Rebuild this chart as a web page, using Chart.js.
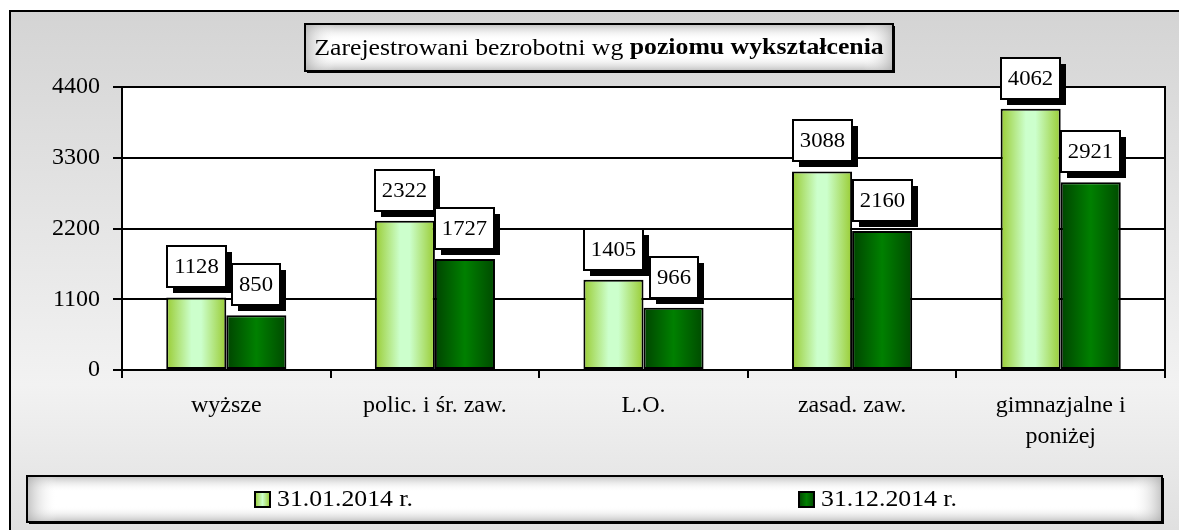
<!DOCTYPE html>
<html><head><meta charset="utf-8">
<script src="https://cdn.jsdelivr.net/npm/chart.js@4/dist/chart.umd.min.js"></script>
<style>html,body{margin:0;padding:0;background:#fff;overflow:hidden}</style>
</head><body>
<canvas id="c" width="1179" height="530"></canvas>
<script>
// ---- data ----
const categories = ['wyższe', 'polic. i śr. zaw.', 'L.O.', 'zasad. zaw.', ['gimnazjalne i', 'poniżej']];
const seriesNames = ['31.01.2014 r.', '31.12.2014 r.'];
const valuesJan = [1128, 2322, 1405, 3088, 4062];
const valuesDec = [850, 1727, 966, 2160, 2921];
const yTicks = [0, 1100, 2200, 3300, 4400];
const titleNormal = 'Zarejestrowani bezrobotni wg ';
const titleBold = 'poziomu wykształcenia';

// ---- styling ----
const FONT = "'Liberation Serif', 'Times New Roman', serif";
const CAT_PCT = 0.576;
const SX = 1.08;

function barGradient(context, which) {
  const chart = context.chart;
  const xs = chart.scales.x;
  const light = which === 0;
  if (!xs || !chart.chartArea) return light ? '#b8e68a' : '#006600';
  const center = xs.getPixelForValue(context.dataIndex);
  const band = xs.width / categories.length * CAT_PCT;
  const left = light ? center - band / 2 : center;
  const g = chart.ctx.createLinearGradient(left, 0, left + band / 2, 0);
  if (light) {
    g.addColorStop(0, '#99cc33');
    g.addColorStop(0.42, '#ccffcc');
    g.addColorStop(0.58, '#ccffcc');
    g.addColorStop(1, '#99cc33');
  } else {
    g.addColorStop(0, '#004400');
    g.addColorStop(0.5, '#008000');
    g.addColorStop(1, '#004a00');
  }
  return g;
}

function sText(ctx, text, x, y, sx) {
  ctx.save();
  ctx.translate(x, y);
  ctx.scale(sx, 1);
  ctx.fillText(text, 0, 0);
  ctx.restore();
}

function boxGradientFill(ctx, x, y, w, h) {
  ctx.fillStyle = '#ffffff';
  ctx.fillRect(x, y, w, h);
  const gv = ctx.createLinearGradient(0, y, 0, y + h);
  gv.addColorStop(0, 'rgba(170,170,170,0.75)');
  gv.addColorStop(0.35, 'rgba(255,255,255,0)');
  gv.addColorStop(0.65, 'rgba(255,255,255,0)');
  gv.addColorStop(1, 'rgba(170,170,170,0.75)');
  ctx.fillStyle = gv;
  ctx.fillRect(x, y, w, h);
  const gh = ctx.createLinearGradient(x, 0, x + w, 0);
  const e = Math.min(0.08, 30 / w);
  gh.addColorStop(0, 'rgba(170,170,170,0.7)');
  gh.addColorStop(e, 'rgba(255,255,255,0)');
  gh.addColorStop(1 - e, 'rgba(255,255,255,0)');
  gh.addColorStop(1, 'rgba(170,170,170,0.7)');
  ctx.fillStyle = gh;
  ctx.fillRect(x, y, w, h);
}

const decorPlugin = {
  id: 'decor',
  beforeDraw(chart) {
    const ctx = chart.ctx;
    const W = chart.width, H = chart.height;
    ctx.save();
    ctx.fillStyle = '#ffffff';
    ctx.fillRect(0, 0, W, H);
    const g = ctx.createLinearGradient(0, 11, 0, H);
    g.addColorStop(0, '#d4d4d4');
    g.addColorStop(0.72, '#f2f2f2');
    g.addColorStop(1, '#e0e0e0');
    ctx.fillStyle = g;
    ctx.fillRect(10, 11, W, H);
    ctx.strokeStyle = '#000';
    ctx.lineWidth = 2;
    ctx.strokeRect(10, 11, W + 20, H + 20);
    const a = chart.chartArea;
    ctx.fillStyle = '#ffffff';
    ctx.fillRect(a.left, a.top, a.right - a.left, a.bottom - a.top);
    ctx.restore();
  },
  beforeDatasetsDraw(chart) {
    const ctx = chart.ctx, a = chart.chartArea;
    ctx.save();
    ctx.strokeStyle = '#000';
    ctx.lineWidth = 2;
    ctx.beginPath();
    ctx.moveTo(a.right, a.top - 1);
    ctx.lineTo(a.right, a.bottom);
    ctx.stroke();
    ctx.restore();
  },
  afterDatasetsDraw(chart) {
    const ctx = chart.ctx;
    ctx.save();
    ctx.font = '21px ' + FONT;
    ctx.textBaseline = 'middle';
    ctx.textAlign = 'left';
    chart.data.datasets.forEach((ds, di) => {
      const meta = chart.getDatasetMeta(di);
      meta.data.forEach((el, i) => {
        const txt = String(ds.data[i]);
        const tw = ctx.measureText(txt).width * SX;
        const w = Math.round(tw + 14), h = 41;
        const x = Math.round(el.x - w / 2), y = Math.round(el.y - 10 - h);
        ctx.fillStyle = '#000';
        ctx.fillRect(x + 6, y + 6, w, h);
        ctx.fillStyle = '#fff';
        ctx.fillRect(x, y, w, h);
        ctx.strokeStyle = '#000';
        ctx.lineWidth = 2;
        ctx.strokeRect(x, y, w, h);
        ctx.fillStyle = '#000';
        sText(ctx, txt, x + (w - tw) / 2, y + h / 2 + 1, SX);
      });
    });
    ctx.restore();
  },
  afterDraw(chart) {
    const ctx = chart.ctx;
    ctx.save();
    // title box
    const tx = 305, ty = 24, tw = 588, th = 47;
    ctx.fillStyle = '#000';
    ctx.fillRect(tx + 2, ty + 2, tw, th);
    boxGradientFill(ctx, tx, ty, tw, th);
    ctx.strokeStyle = '#000';
    ctx.lineWidth = 2;
    ctx.strokeRect(tx, ty, tw, th);
    ctx.fillStyle = '#000';
    ctx.textBaseline = 'middle';
    ctx.textAlign = 'left';
    const TS = 1.12;
    ctx.font = '23px ' + FONT;
    const w1 = ctx.measureText(titleNormal).width * TS;
    ctx.font = 'bold 23px ' + FONT;
    const w2 = ctx.measureText(titleBold).width * TS;
    let sx0 = tx + tw / 2 - (w1 + w2) / 2;
    ctx.font = '23px ' + FONT;
    sText(ctx, titleNormal, sx0, ty + th / 2 + 1, TS);
    ctx.font = 'bold 23px ' + FONT;
    sText(ctx, titleBold, sx0 + w1, ty + th / 2 + 1, TS);

    // legend box
    const lx = 27, ly = 476, lw = 1135, lh = 46;
    ctx.fillStyle = '#000';
    ctx.fillRect(lx + 2, ly + 2, lw, lh);
    boxGradientFill(ctx, lx, ly, lw, lh);
    ctx.strokeStyle = '#000';
    ctx.lineWidth = 2;
    ctx.strokeRect(lx, ly, lw, lh);
    const itemX = [255, 799];
    ctx.font = '23px ' + FONT;
    chart.data.datasets.forEach((ds, di) => {
      const x = itemX[di], cy = ly + lh / 2;
      const g = ctx.createLinearGradient(x, 0, x + 15, 0);
      if (di === 0) {
        g.addColorStop(0, '#99cc33'); g.addColorStop(0.5, '#ccffcc'); g.addColorStop(1, '#99cc33');
      } else {
        g.addColorStop(0, '#004400'); g.addColorStop(0.5, '#008000'); g.addColorStop(1, '#004a00');
      }
      ctx.fillStyle = g;
      ctx.fillRect(x, cy - 7, 15, 15);
      ctx.strokeStyle = '#000';
      ctx.lineWidth = 2;
      ctx.strokeRect(x, cy - 7, 15, 15);
      ctx.fillStyle = '#000';
      sText(ctx, ds.label, x + 22, cy + 1, 1.12);
    });
    ctx.restore();
  }
};

new Chart(document.getElementById('c'), {
  type: 'bar',
  data: {
    labels: categories,
    datasets: [
      { label: seriesNames[0], data: valuesJan, backgroundColor: c => barGradient(c, 0) },
      { label: seriesNames[1], data: valuesDec, backgroundColor: c => barGradient(c, 1) }
    ]
  },
  options: {
    responsive: false,
    animation: false,
    devicePixelRatio: 1,
    layout: { padding: { left: 0, top: 87, right: 14, bottom: 0 } },
    datasets: {
      bar: {
        categoryPercentage: CAT_PCT,
        barPercentage: 1,
        borderColor: '#000',
        borderWidth: 2,
        borderSkipped: false
      }
    },
    plugins: {
      legend: { display: false },
      title: { display: false },
      tooltip: { enabled: false }
    },
    scales: {
      x: {
        offset: true,
        grid: { display: true, drawOnChartArea: false, drawTicks: true, tickLength: 8, color: '#000', lineWidth: 2, offset: true },
        border: { display: true, color: '#000', width: 2 },
        ticks: {
          color: '#000', font: { family: FONT, size: 24, lineHeight: 1.3 },
          padding: 12, maxRotation: 0, autoSkip: false
        },
        afterFit: s => { s.height = 160; }
      },
      y: {
        min: 0, max: 4400,
        afterBuildTicks: s => { s.ticks = yTicks.map(v => ({ value: v })); },
        grid: { color: '#000', lineWidth: 2, tickLength: 9, drawTicks: true },
        border: { display: true, color: '#000', width: 2 },
        ticks: { color: '#000', font: { family: FONT, size: 24 }, padding: 13, callback: v => String(v) },
        afterFit: s => { s.width = 122; }
      }
    }
  },
  plugins: [decorPlugin]
});
</script>
</body></html>
